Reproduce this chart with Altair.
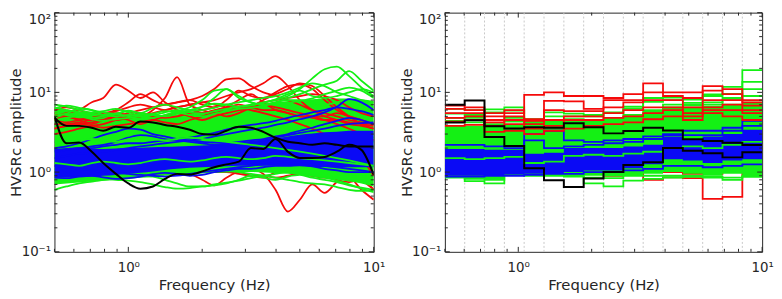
import altair as alt
import pandas as pd

# ---------------- data ----------------
FREQ_L = [0.5, 0.56, 0.63, 0.71, 0.79, 0.89, 1.0, 1.12, 1.26, 1.41, 1.58, 1.78, 2.0, 2.24,
          2.51, 2.82, 3.16, 3.55, 3.98, 4.47, 5.0, 5.62, 6.31, 7.08, 7.94, 8.91, 10.0]

GREEN_BAND_HI_L = [6.4, 6.1, 5.8, 5.5, 5.3, 5.2, 5.1, 5.1, 5.1, 5.2, 5.3, 5.5, 5.7, 6.0,
                   6.3, 6.6, 6.9, 7.2, 7.5, 7.8, 8.0, 8.2, 8.4, 8.4, 8.4, 8.2, 7.8]
GREEN_BAND_LO_L = [0.7, 0.72, 0.74, 0.76, 0.78, 0.8, 0.82, 0.85, 0.87, 0.9, 0.92, 0.94, 0.96, 0.98,
                   0.99, 1.0, 1.0, 0.99, 0.97, 0.95, 0.92, 0.88, 0.84, 0.8, 0.76, 0.72, 0.66]
BLUE_BAND_HI_L = [1.95, 1.95, 1.95, 1.95, 1.95, 1.97, 2.0, 2.02, 2.05, 2.08, 2.1, 2.12, 2.15, 2.2,
                  2.25, 2.3, 2.4, 2.5, 2.65, 2.8, 2.95, 3.05, 3.15, 3.2, 3.3, 3.3, 3.3]
BLUE_BAND_LO_L = [0.85, 0.86, 0.87, 0.88, 0.9, 0.92, 0.95, 0.98, 1.02, 1.06, 1.1, 1.13, 1.15, 1.17,
                  1.18, 1.2, 1.2, 1.2, 1.2, 1.2, 1.18, 1.17, 1.16, 1.15, 1.15, 1.15, 1.15]

RED_L = {
    "r1": [5.0, 5.5, 6.0, 7.5, 8.5, 12.5, 10.5, 8.5, 10.0, 7.5, 6.0, 5.5, 5.5, 6.0, 6.5, 7.0, 6.5, 6.0, 6.0, 5.5, 5.0, 5.0, 5.0, 5.5, 5.0, 4.5, 4.0],
    "r2": [4.5, 4.2, 4.5, 4.8, 5.0, 5.5, 5.2, 5.0, 6.0, 8.5, 15.5, 7.0, 6.0, 5.5, 6.5, 8.0, 9.5, 7.5, 6.0, 5.5, 5.0, 4.8, 4.5, 4.5, 4.2, 4.0, 3.8],
    "r3": [4.0, 4.0, 4.2, 4.5, 4.5, 5.0, 5.5, 6.0, 6.5, 7.0, 7.5, 8.0, 9.0, 11.0, 14.5, 15.0, 12.0, 10.0, 9.0, 8.0, 7.0, 6.0, 5.5, 5.0, 4.5, 4.2, 4.0],
    "r4": [3.5, 3.8, 4.0, 4.2, 4.5, 4.5, 4.8, 5.0, 5.5, 6.0, 6.5, 7.0, 7.5, 8.0, 9.0, 10.0, 11.0, 13.0, 16.0, 12.0, 8.0, 6.0, 5.0, 4.5, 4.0, 3.8, 3.5],
    "r5": [6.0, 6.5, 6.0, 5.5, 5.5, 6.0, 7.5, 9.5, 8.0, 7.0, 7.5, 8.0, 7.0, 6.5, 8.0, 10.5, 9.0, 8.5, 10.0, 12.0, 12.5, 11.0, 8.0, 6.0, 5.0, 4.5, 4.0],
    "r8": [3.0, 3.2, 3.5, 3.8, 4.0, 4.5, 5.0, 5.5, 5.0, 4.8, 5.0, 5.5, 6.0, 6.5, 7.0, 6.5, 6.0, 5.5, 5.0, 4.5, 4.0, 3.5, 3.0, 2.5, 2.0, 1.5, 0.9],
    "r9": [4.5, 5.0, 4.5, 4.0, 4.5, 5.0, 4.5, 4.0, 4.5, 5.0, 5.5, 5.0, 4.5, 5.0, 5.5, 6.0, 6.5, 7.0, 6.5, 6.0, 5.5, 5.0, 4.5, 4.0, 3.5, 3.0, 2.5],
    "r10": [3.5, 3.8, 4.0, 3.8, 3.6, 3.8, 4.0, 4.2, 4.5, 4.2, 4.0, 4.5, 5.0, 5.5, 5.0, 5.5, 6.5, 8.0, 9.5, 11.0, 13.0, 12.0, 9.0, 6.5, 5.0, 4.0, 3.5],
    "r12": [5.5, 5.0, 4.6, 4.8, 5.2, 5.8, 6.5, 7.0, 6.5, 6.0, 6.5, 7.0, 7.5, 7.0, 6.5, 6.0, 6.8, 7.5, 8.0, 8.5, 9.0, 9.5, 9.0, 8.0, 6.5, 5.5, 5.0],
}
RED_LOW_L = {
    "r6": [1.2, 1.2, 1.3, 1.3, 1.4, 1.5, 1.4, 1.3, 1.3, 1.4, 1.5, 1.6, 1.5, 1.4, 1.3, 1.2, 1.1, 0.95, 0.6, 0.32, 0.45, 0.7, 0.55, 0.75, 0.85, 0.6, 0.45],
    "r7": [2.0, 1.8, 1.7, 1.6, 1.5, 1.4, 1.3, 1.2, 1.1, 1.1, 1.0, 0.95, 0.8, 0.68, 0.85, 1.0, 0.9, 0.85, 1.0, 1.1, 1.0, 0.9, 0.95, 0.8, 0.75, 0.8, 0.6],
    "r11": [1.5, 1.5, 1.4, 1.4, 1.3, 1.3, 1.3, 1.2, 1.2, 1.2, 1.2, 1.1, 1.1, 1.0, 1.0, 0.95, 0.9, 0.9, 0.85, 0.9, 0.95, 0.9, 0.85, 0.9, 1.0, 0.8, 0.6],
}
GREEN_L = {
    "g1": [6.5, 6.0, 5.6, 5.4, 5.2, 5.4, 5.8, 5.5, 5.2, 5.6, 6.0, 5.6, 5.4, 5.8, 6.2, 6.6, 7.0, 7.5, 8.0, 9.0, 11.0, 15.0, 19.5, 21.0, 16.0, 11.5, 9.0],
    "g2": [5.0, 5.4, 6.2, 6.0, 5.6, 5.4, 5.9, 5.5, 6.4, 7.0, 6.5, 6.0, 6.6, 8.5, 11.0, 9.0, 7.5, 7.0, 7.5, 8.5, 9.5, 11.0, 12.5, 14.0, 18.5, 14.0, 10.5],
    "g3": [0.6, 0.66, 0.72, 0.76, 0.8, 0.82, 0.86, 0.9, 0.88, 0.8, 0.72, 0.66, 0.66, 0.7, 0.74, 0.78, 0.84, 0.9, 0.95, 1.0, 0.95, 0.9, 0.85, 0.78, 0.7, 0.62, 0.56],
    "g4": [0.8, 0.78, 0.82, 0.85, 0.83, 0.8, 0.78, 0.75, 0.7, 0.65, 0.62, 0.63, 0.66, 0.68, 0.72, 0.8, 0.9, 0.85, 0.8, 0.88, 0.92, 0.85, 0.8, 0.75, 0.68, 0.64, 0.6],
    "g5": [7.0, 6.6, 6.0, 5.6, 5.8, 6.2, 5.6, 5.2, 5.4, 5.8, 5.6, 5.2, 5.0, 5.4, 5.8, 6.2, 6.4, 6.8, 7.2, 7.4, 7.8, 8.4, 9.5, 10.5, 11.5, 10.5, 8.5],
    "g6": [1.1, 1.05, 1.0, 1.05, 1.1, 1.0, 0.95, 1.0, 1.05, 1.0, 0.95, 1.0, 1.05, 1.1, 1.05, 1.0, 0.95, 0.9, 0.85, 0.8, 0.75, 0.72, 0.7, 0.65, 0.6, 0.58, 0.6],
    "g7": [4.5, 4.8, 5.0, 4.6, 4.4, 4.6, 4.8, 5.0, 5.2, 5.0, 5.4, 5.8, 6.0, 6.4, 7.0, 7.5, 8.0, 8.5, 9.0, 10.0, 11.5, 13.0, 12.0, 10.0, 9.0, 8.0, 7.5],
    "g8": [6.2, 6.8, 6.4, 6.0, 5.2, 5.0, 5.2, 5.0, 4.8, 5.2, 5.6, 6.0, 6.6, 7.2, 7.0, 6.6, 6.8, 7.4, 8.2, 9.5, 10.5, 9.0, 8.5, 9.0, 10.0, 11.0, 10.0],
    "g9": [5.5, 5.2, 5.0, 4.8, 5.0, 5.3, 5.0, 4.6, 4.8, 5.2, 5.8, 6.5, 8.0, 10.5, 11.0, 8.5, 7.5, 7.0, 7.5, 8.0, 8.0, 7.5, 7.0, 7.5, 8.0, 7.0, 6.5],
    "g12": [0.95, 1.0, 1.05, 1.0, 0.95, 1.0, 1.05, 1.1, 1.15, 1.2, 1.25, 1.3, 1.35, 1.4, 1.45, 1.5, 1.6, 1.7, 1.8, 1.9, 2.0, 2.2, 2.4, 2.6, 2.7, 2.6, 2.4],
    "g13": [1.6, 1.7, 1.8, 1.75, 1.7, 1.65, 1.7, 1.8, 1.9, 1.85, 1.8, 1.75, 1.8, 1.9, 2.0, 2.1, 2.2, 2.3, 2.2, 2.1, 2.3, 2.5, 2.7, 2.9, 3.1, 2.9, 2.7],
}
GREEN_MID_L = {
    "g10": [1.3, 1.25, 1.2, 1.3, 1.35, 1.3, 1.25, 1.3, 1.4, 1.45, 1.4, 1.35, 1.4, 1.5, 1.55, 1.5, 1.45, 1.5, 1.6, 1.55, 1.5, 1.45, 1.4, 1.35, 1.3, 1.25, 1.2],
    "g11": [2.4, 2.3, 2.5, 2.6, 2.5, 2.4, 2.6, 2.7, 2.6, 2.5, 2.6, 2.7, 2.6, 2.5, 2.4, 2.3, 2.2, 2.1, 2.0, 1.9, 1.8, 1.7, 1.6, 1.5, 1.4, 1.3, 1.2],
}
BLUE_L = {
    "b1": [1.5, 1.6, 1.7, 1.75, 1.8, 1.9, 2.0, 2.1, 2.2, 2.3, 2.4, 2.5, 2.6, 2.8, 3.0, 3.2, 3.4, 3.6, 3.9, 4.2, 4.6, 5.0, 5.6, 6.6, 8.2, 7.5, 6.0],
    "b2": [2.0, 2.1, 2.3, 2.6, 2.9, 3.2, 3.5, 3.4, 3.0, 2.8, 2.6, 2.5, 2.4, 2.35, 2.3, 2.4, 2.5, 2.6, 2.8, 3.0, 3.3, 3.6, 4.0, 4.4, 4.8, 4.5, 4.0],
    "b3": [0.85, 0.84, 0.88, 0.9, 0.86, 0.82, 0.84, 0.88, 0.94, 0.98, 0.95, 0.9, 0.92, 1.0, 1.05, 1.1, 1.1, 1.15, 1.2, 1.2, 1.22, 1.18, 1.1, 1.05, 1.0, 1.0, 1.0],
    "b4": [1.8, 1.9, 2.0, 2.0, 2.1, 2.2, 2.3, 2.3, 2.4, 2.5, 2.6, 2.7, 2.9, 3.1, 3.4, 3.7, 3.9, 4.1, 4.4, 4.8, 5.2, 5.6, 6.0, 6.5, 6.2, 5.8, 5.2],
    "b5": [1.9, 1.95, 2.0, 2.1, 2.2, 2.4, 2.7, 2.9, 2.8, 2.6, 2.5, 2.4, 2.3, 2.2, 2.2, 2.3, 2.4, 2.5, 2.7, 2.9, 3.1, 3.3, 3.5, 3.8, 4.0, 4.1, 4.2],
    "b6": [1.2, 1.15, 1.1, 1.05, 1.0, 0.98, 0.95, 0.92, 0.9, 0.88, 0.9, 0.95, 1.0, 1.05, 1.1, 1.15, 1.2, 1.25, 1.3, 1.35, 1.3, 1.25, 1.2, 1.15, 1.1, 1.05, 1.0],
}
BLACK_L = {
    "k1": [5.0, 2.3, 2.35, 1.8, 1.3, 0.95, 0.72, 0.62, 0.66, 0.82, 0.95, 0.93, 1.02, 1.15, 1.25, 1.35, 2.0, 1.95, 2.6, 1.8, 1.5, 1.5, 1.55, 1.8, 2.2, 1.9, 0.92],
    "k2": [4.8, 3.8, 3.8, 3.6, 3.3, 3.7, 3.6, 4.3, 4.2, 3.9, 3.7, 3.4, 3.0, 2.95, 3.3, 3.7, 3.6, 3.2, 2.7, 2.4, 2.3, 2.2, 2.3, 2.2, 2.1, 2.1, 2.1],
}

# right panel: 16 frequency bins
BIN_EDGES = [0.5, 0.603, 0.727, 0.877, 1.057, 1.275, 1.538, 1.854, 2.236, 2.697, 3.252,
             3.922, 4.729, 5.703, 6.878, 8.294, 10.0]
BIN_CENTERS = [0.549, 0.662, 0.798, 0.963, 1.161, 1.400, 1.689, 2.036, 2.456, 2.961, 3.571,
               4.307, 5.193, 6.263, 7.553, 9.108]

GREEN_HI_R = [3.8, 3.8, 3.7, 3.9, 4.3, 4.5, 4.5, 4.5, 4.8, 5.2, 6.0, 6.5, 6.5, 6.8, 7.2, 7.6]
GREEN_LO_R = [0.85, 0.84, 0.8, 0.9, 0.95, 0.95, 0.92, 0.9, 0.88, 0.92, 0.95, 1.0, 0.95, 0.9, 0.95, 0.9]
BLUE_HI_R = [1.95, 1.95, 1.9, 1.9, 1.7, 1.75, 2.0, 2.0, 2.0, 2.1, 2.2, 2.8, 2.6, 2.8, 3.0, 3.4]
BLUE_LO_R = [0.9, 0.9, 0.92, 0.93, 0.95, 0.95, 1.0, 1.05, 1.05, 1.12, 1.25, 1.45, 1.4, 1.3, 1.4, 1.45]

RED_R = {
    "r1": [6.8, 6.0, 5.0, 5.5, 9.3, 10.0, 9.0, 9.0, 8.5, 9.5, 13.0, 10.0, 10.0, 12.0, 11.0, 8.0],
    "r2": [6.2, 6.5, 5.5, 6.0, 4.6, 7.8, 7.7, 6.2, 8.0, 8.0, 10.0, 9.0, 8.5, 10.5, 9.5, 7.5],
    "r3": [5.5, 5.5, 4.5, 5.0, 4.4, 6.0, 5.8, 5.8, 6.5, 7.5, 8.0, 8.0, 6.5, 8.0, 8.0, 6.8],
    "r4": [4.8, 5.0, 4.2, 4.5, 4.0, 4.5, 5.0, 5.0, 5.5, 6.0, 6.5, 6.5, 5.5, 6.5, 7.0, 6.0],
    "r5": [4.3, 4.5, 3.8, 4.0, 3.5, 3.8, 4.5, 4.5, 4.8, 5.0, 5.5, 6.0, 5.0, 6.0, 6.0, 5.5],
    "r8": [3.8, 3.9, 3.2, 3.3, 3.0, 3.3, 3.5, 3.8, 4.0, 4.2, 4.6, 5.0, 4.5, 5.5, 5.0, 4.5],
}
RED_LOW_R = {
    "r6": [1.2, 1.2, 1.3, 1.3, 1.4, 1.5, 1.4, 1.4, 1.2, 0.95, 0.8, 0.86, 0.84, 0.46, 0.49, 0.95],
    "r7": [1.5, 1.4, 1.3, 1.2, 1.1, 1.05, 1.0, 0.95, 0.9, 1.0, 1.1, 1.0, 0.95, 0.95, 1.05, 1.0],
}
GREEN_R = {
    "g1": [6.2, 6.0, 6.1, 6.5, 4.6, 5.6, 5.4, 5.2, 5.6, 6.2, 8.5, 8.6, 8.1, 9.4, 11.7, 19.0],
    "g2": [5.4, 5.2, 5.6, 5.9, 4.3, 5.0, 5.0, 5.0, 5.5, 6.6, 7.6, 8.0, 7.4, 9.0, 9.6, 13.5],
    "g3": [0.85, 0.77, 0.72, 0.93, 0.9, 0.9, 0.88, 0.72, 0.66, 0.78, 0.82, 0.85, 0.87, 0.85, 0.8, 0.87],
    "g4": [0.9, 0.82, 0.8, 0.95, 0.95, 0.92, 0.9, 0.85, 0.84, 0.9, 0.9, 0.9, 0.9, 0.88, 0.85, 0.9],
    "g5": [4.8, 4.8, 4.5, 4.8, 4.0, 4.5, 4.6, 4.5, 4.8, 5.2, 6.0, 7.0, 7.0, 7.5, 8.5, 11.0],
    "g6": [4.4, 4.2, 4.0, 4.3, 3.6, 4.2, 4.3, 4.2, 4.4, 4.9, 5.0, 6.5, 6.8, 7.0, 8.0, 9.0],
    "g8": [1.1, 1.05, 1.1, 1.15, 1.05, 1.1, 1.2, 1.25, 1.3, 1.35, 1.4, 1.6, 1.55, 1.5, 1.6, 1.7],
}
GREEN_MID_R = {
    "g7": [1.5, 1.45, 1.5, 1.55, 1.3, 1.35, 1.6, 1.65, 1.6, 1.7, 1.8, 2.0, 2.1, 2.0, 2.2, 2.4],
}
BLUE_R = {
    "b1": [2.2, 2.2, 2.1, 2.0, 3.0, 3.3, 2.5, 2.4, 2.5, 2.6, 2.8, 3.0, 3.3, 3.3, 3.6, 4.4],
    "b2": [0.88, 0.88, 0.9, 0.9, 0.92, 0.95, 0.95, 1.0, 1.0, 1.05, 1.1, 1.2, 1.2, 1.15, 1.2, 1.25],
    "b3": [1.75, 1.7, 1.8, 1.85, 2.5, 2.0, 2.1, 2.2, 2.3, 2.4, 2.6, 2.9, 2.9, 2.9, 3.3, 3.8],
}
BLACK_R = {
    "k1": [7.0, 7.9, 2.76, 2.13, 1.12, 0.79, 0.65, 0.83, 1.0, 1.23, 1.33, 2.0, 1.85, 1.72, 1.53, 1.77],
    "k2": [4.2, 4.47, 3.77, 3.53, 3.66, 3.6, 4.1, 3.66, 3.06, 3.27, 3.6, 3.33, 2.58, 2.46, 2.33, 2.18],
}

X_TICKS_MAJOR = [1, 10]
X_TICKS_MINOR = [0.5, 0.6, 0.7, 0.8, 0.9, 2, 3, 4, 5, 6, 7, 8, 9]
Y_TICKS_MAJOR = [0.1, 1, 10, 100]
Y_TICKS_MINOR = [0.2, 0.3, 0.4, 0.5, 0.6, 0.7, 0.8, 0.9, 2, 3, 4, 5, 6, 7, 8, 9,
                 20, 30, 40, 50, 60, 70, 80, 90]

# ---------------- style ----------------
RED, GREEN, BLUE, BLACK = "#f50a0a", "#14f014", "#0a0af5", "#000000"
AX = "#262626"
FONT = "DejaVu Sans"
H = 242
W_L, W_R = 323, 321

XS = alt.Scale(type="log", domain=[0.5, 10], nice=False)
YS = alt.Scale(type="log", domain=[0.1, 100], nice=False)

X_AXIS = alt.Axis(values=X_TICKS_MAJOR, labelExpr="datum.value < 5 ? '10⁰' : '10¹'",
                  title="Frequency (Hz)", labelPadding=9, titlePadding=4, labelFlush=False,
                  ticks=False, domain=False, grid=False)
Y_AXIS = alt.Axis(values=Y_TICKS_MAJOR,
                  labelExpr="datum.value < 0.5 ? '10⁻¹' : (datum.value < 5 ? '10⁰' : (datum.value < 50 ? '10¹' : '10²'))",
                  title="HVSRc amplitude", labelPadding=4, minExtent=31, maxExtent=31,
                  titlePadding=0, ticks=False, domain=False, grid=False,
                  labelBaseline={"condition": {"test": "datum.value > 50", "value": "top"},
                                 "value": "middle"})


def XE(field):
    return alt.X(field, scale=XS, axis=X_AXIS, title="Frequency (Hz)")


def YE(field):
    return alt.Y(field, scale=YS, axis=Y_AXIS, title="HVSRc amplitude")


def line_df(freqs, curves):
    rows = []
    for cid, vals in curves.items():
        for f, v in zip(freqs, vals):
            rows.append({"f": f, "v": v, "id": cid})
    return pd.DataFrame(rows)


def step_df(curves):
    xs = [BIN_EDGES[0]] + BIN_CENTERS + [BIN_EDGES[-1]]
    rows = []
    for cid, vals in curves.items():
        vv = [vals[0]] + list(vals) + [vals[-1]]
        for f, v in zip(xs, vv):
            rows.append({"f": f, "v": v, "id": cid})
    return pd.DataFrame(rows)


def band_df(freqs, hi, lo):
    return pd.DataFrame({"f": freqs, "hi": hi, "lo": lo})


def step_band_df(hi, lo):
    xs = [BIN_EDGES[0]] + BIN_CENTERS + [BIN_EDGES[-1]]
    return pd.DataFrame({"f": xs, "hi": [hi[0]] + hi + [hi[-1]], "lo": [lo[0]] + lo + [lo[-1]]})


def lines(df, color, width, interp):
    return alt.Chart(df).mark_line(color=color, strokeWidth=width, interpolate=interp,
                                   clip=True).encode(x=XE("f:Q"), y=YE("v:Q"), detail="id:N")


def band(df, color, interp):
    return alt.Chart(df).mark_area(color=color, opacity=1, interpolate=interp, clip=True).encode(
        x=XE("f:Q"), y=YE("hi:Q"), y2="lo:Q")


def tick_layers(W):
    out = []
    for vals, ln in ((X_TICKS_MAJOR, 5), (X_TICKS_MINOR, 3)):
        d = alt.Chart(pd.DataFrame({"v": vals}))
        out.append(d.mark_rule(color=AX, strokeWidth=1).encode(
            x=XE("v:Q"), y=alt.value(H), y2=alt.value(H - ln)))
        out.append(d.mark_rule(color=AX, strokeWidth=1).encode(
            x=XE("v:Q"), y=alt.value(0), y2=alt.value(ln)))
    for vals, ln in ((Y_TICKS_MAJOR, 5), (Y_TICKS_MINOR, 3)):
        d = alt.Chart(pd.DataFrame({"v": vals}))
        out.append(d.mark_rule(color=AX, strokeWidth=1).encode(
            y=YE("v:Q"), x=alt.value(0), x2=alt.value(ln)))
        out.append(d.mark_rule(color=AX, strokeWidth=1).encode(
            y=YE("v:Q"), x=alt.value(W), x2=alt.value(W - ln)))
    return out


LW = 1.8

# ---------------- left panel ----------------
left = alt.layer(
    lines(line_df(FREQ_L, RED_LOW_L), RED, LW, "monotone"),
    band(band_df(FREQ_L, GREEN_BAND_HI_L, GREEN_BAND_LO_L), GREEN, "monotone"),
    lines(line_df(FREQ_L, RED_L), RED, LW, "monotone"),
    lines(line_df(FREQ_L, GREEN_L), GREEN, LW, "monotone"),
    band(band_df(FREQ_L, BLUE_BAND_HI_L, BLUE_BAND_LO_L), BLUE, "monotone"),
    lines(line_df(FREQ_L, BLUE_L), BLUE, LW, "monotone"),
    lines(line_df(FREQ_L, GREEN_MID_L), GREEN, LW, "monotone"),
    lines(line_df(FREQ_L, BLACK_L), BLACK, 2.0, "monotone"),
    *tick_layers(W_L),
).properties(width=W_L, height=H)

# ---------------- right panel ----------------
grid = alt.Chart(pd.DataFrame({"v": BIN_EDGES[1:-1]})).mark_rule(
    color="#c8c8c8", strokeDash=[2, 2], strokeWidth=1).encode(
    x=XE("v:Q"), y=alt.value(0), y2=alt.value(H))

right = alt.layer(
    grid,
    lines(step_df(RED_LOW_R), RED, LW, "step"),
    band(step_band_df(GREEN_HI_R, GREEN_LO_R), GREEN, "step"),
    lines(step_df(GREEN_R), GREEN, LW, "step"),
    band(step_band_df(BLUE_HI_R, BLUE_LO_R), BLUE, "step"),
    lines(step_df(BLUE_R), BLUE, LW, "step"),
    lines(step_df(GREEN_MID_R), GREEN, LW, "step"),
    lines(step_df(RED_R), RED, LW, "step"),
    lines(step_df(BLACK_R), BLACK, 2.0, "step"),
    *tick_layers(W_R),
).properties(width=W_R, height=H)

chart = alt.hconcat(left, right, spacing=72, bounds="flush").properties(
    padding={"left": 0, "top": 2, "right": 0, "bottom": 0},
    background="white",
).configure_view(stroke=AX, strokeWidth=1).configure_axis(
    labelFont=FONT, titleFont=FONT, labelFontSize=13.5, titleFontSize=15,
    labelColor=AX, titleColor=AX, titleFontWeight="normal",
)

chart.save("out.html", embed_options={"renderer": "svg", "actions": False})
